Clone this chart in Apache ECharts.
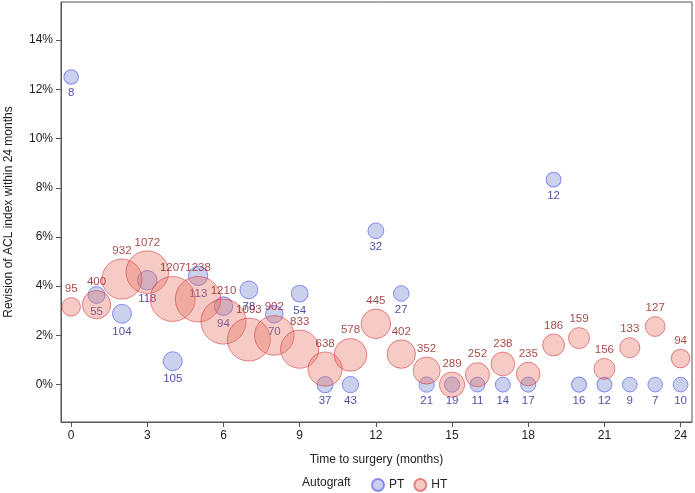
<!DOCTYPE html>
<html>
<head>
<meta charset="utf-8">
<script src="https://cdn.jsdelivr.net/npm/echarts@6/dist/echarts.min.js"></script>
<style>html,body{margin:0;padding:0;background:#fff}#c{width:695px;height:493px}</style>
</head>
<body>
<div id="c"></div>
<script>
const months = [0,1,2,3,4,5,6,7,8,9,10,11,12,13,14,15,16,17,18,19,20,21,22,23,24];
const ptRate = [12.5,3.64,2.88,4.24,0.95,4.42,3.19,3.85,2.86,3.70,0,0,6.25,3.70,0,0,0,0,0,8.33,0,0,0,0,0];
const ptN    = [8,55,104,118,105,113,94,78,70,54,37,43,32,27,21,19,11,14,17,12,16,12,9,7,10];
const htRate = [3.16,3.25,4.29,4.57,3.48,3.47,2.56,1.83,2.00,1.44,0.63,1.21,2.47,1.24,0.57,0,0.40,0.84,0.43,1.61,1.89,0.64,1.50,2.36,1.06];
const htN    = [95,400,932,1072,1207,1238,1210,1093,902,833,638,578,445,402,352,289,252,238,235,186,159,156,133,127,94];
const xTicks = [0,3,6,9,12,15,18,21,24];
const yTicks = [0,2,4,6,8,10,12,14];

const font = 'Arial, "Liberation Sans", sans-serif';
const ptData = months.map((m,i)=>[m, ptRate[i], ptN[i]]);
const htData = months.map((m,i)=>[m, htRate[i], htN[i]]);
const sz = d => 2*Math.sqrt(50.7 + 0.377*d[2]);

const chart = echarts.init(document.getElementById('c'));
chart.setOption({
  animation:false,
  textStyle:{fontFamily:font},
  grid:{left:61,right:3,top:2,bottom:71,show:true,borderColor:'#555',borderWidth:1,backgroundColor:'transparent',containLabel:false,outerBoundsMode:'none'},
  xAxis:{
    type:'value',min:-0.4,max:24.45,
    name:'Time to surgery (months)',nameLocation:'middle',nameGap:32,
    nameTextStyle:{fontSize:12,color:'#222',fontFamily:font},
    axisLine:{show:true,onZero:false,lineStyle:{color:'#555'}},
    axisTick:{show:true,inside:false,length:5,lineStyle:{color:'#555'},customValues:xTicks},
    axisLabel:{fontSize:12,color:'#222',margin:8,customValues:xTicks,fontFamily:font},
    splitLine:{show:false}
  },
  yAxis:{
    type:'value',min:-1.52,max:15.55,
    name:'Revision of ACL index within 24 months',nameLocation:'middle',nameGap:46,
    nameTextStyle:{fontSize:12,color:'#222',fontFamily:font},
    axisLine:{show:true,onZero:false,lineStyle:{color:'#555'}},
    axisTick:{show:true,inside:false,length:5,lineStyle:{color:'#555'},customValues:yTicks},
    axisLabel:{fontSize:12,color:'#222',margin:8,customValues:yTicks,formatter:'{value}%',fontFamily:font},
    splitLine:{show:false}
  },
  legend:{
    left:371,top:478,padding:0,itemWidth:12,itemHeight:12,itemGap:9,
    textStyle:{fontSize:12,color:'#222',fontFamily:font},
    data:[{name:'PT',icon:'circle'},{name:'HT',icon:'circle'}]
  },
  graphic:[{type:'text',left:302,top:477,style:{text:'Autograft',font:'12px '+font,fill:'#222'}}],
  series:[
    {
      name:'PT',type:'scatter',z:2,data:ptData,symbolSize:sz,
      itemStyle:{color:'rgba(120,140,210,0.5)',borderColor:'rgba(95,95,240,0.85)',borderWidth:1},
      label:{show:true,position:'bottom',distance:2,formatter:p=>p.value[2],color:'#23238f',fontSize:11.5,fontFamily:font},
      emphasis:{disabled:true}
    },
    {
      name:'HT',type:'scatter',z:3,data:htData,symbolSize:sz,
      itemStyle:{color:'rgba(230,110,95,0.45)',borderColor:'rgba(210,50,60,0.7)',borderWidth:1},
      label:{show:true,position:'top',distance:2,formatter:p=>p.value[2],color:'#8e1616',fontSize:11.5,fontFamily:font},
      emphasis:{disabled:true}
    }
  ]
});
</script>
</body>
</html>
